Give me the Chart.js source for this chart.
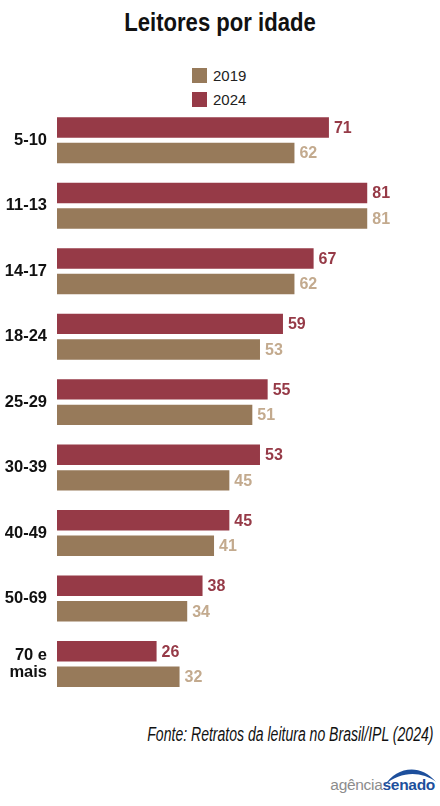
<!DOCTYPE html>
<html>
<head>
<meta charset="utf-8">
<script src="https://cdn.jsdelivr.net/npm/chart.js@4.4.1/dist/chart.umd.min.js"></script>
<style>
  html, body { margin:0; padding:0; background:#fff; }
  body { width:440px; height:806px; position:relative; overflow:hidden; }
  .narrow { font-family: 'Liberation Sans', Arial, sans-serif; }
  #title { position:absolute; left:0; width:440px; top:8.7px; text-align:center; font-size:26px; line-height:26px; font-weight:bold; color:#111; transform:scaleX(0.85); transform-origin:220px 0; white-space:nowrap; }
  .leg { position:absolute; left:192px; height:15px; font-family:'Liberation Sans', sans-serif; font-size:15px; line-height:15px; color:#222; }
  .leg i { position:absolute; left:0; top:0; width:15px; height:15px; }
  .leg span { position:absolute; left:21px; top:0; white-space:nowrap; }
  #wrap { position:absolute; left:0; top:100px; width:440px; height:600px; }
  #src { position:absolute; right:7px; top:725.2px; font-size:19.5px; line-height:19.5px; font-style:italic; color:#111; white-space:nowrap; transform:scaleX(0.72); transform-origin:100% 0; }
  #logo { position:absolute; right:5px; top:777px; font-family:'Liberation Sans', sans-serif; font-size:15.5px; line-height:15.5px; white-space:nowrap; letter-spacing:-0.3px; }
  #logo .a { color:#8c8c8c; }
  #logo .s { color:#1d4f9c; font-weight:bold; }
  #arc { position:absolute; left:380px; top:762px; }
</style>
</head>
<body>
<div id="title" class="narrow">Leitores por idade</div>
<div id="legend"></div>
<div id="wrap"><canvas id="c"></canvas></div>
<div id="src" class="narrow">Fonte: Retratos da leitura no Brasil/IPL (2024)</div>
<svg id="arc" width="60" height="28" viewBox="0 0 60 28">
  <path d="M5,23 C15,6 40,0 56,20 C42,9 20,9 5,23 Z" fill="#1d4f9c"/>
</svg>
<div id="logo"><span class="a">agência</span><span class="s">senado</span></div>
<script>
const categories = ['5-10', '11-13', '14-17', '18-24', '25-29', '30-39', '40-49', '50-69', ['70 e', 'mais']];
const values2024 = [71, 81, 67, 59, 55, 53, 45, 38, 26];
const values2019 = [62, 81, 62, 53, 51, 45, 41, 34, 32];
const seriesNames = ['2024', '2019'];
const barColors = ['#963a47', '#977a5a'];
const labelColors = ['#963a47', '#c3aa8e'];
const legendOrder = [1, 0];

// HTML legend (vertical, 2019 first)
const legendEl = document.getElementById('legend');
const legTops = [68, 92];
legendOrder.forEach((idx, row) => {
  const d = document.createElement('div');
  d.className = 'leg';
  d.style.top = legTops[row] + 'px';
  d.innerHTML = '<i style="background:' + barColors[idx] + '"></i><span style="top:0.3px">' + seriesNames[idx] + '</span>';
  legendEl.appendChild(d);
});

const valueLabels = {
  id: 'valueLabels',
  afterDatasetsDraw(chart) {
    const ctx = chart.ctx;
    ctx.save();
    ctx.font = 'bold 16px "Liberation Sans", sans-serif';
    ctx.textAlign = 'left';
    ctx.textBaseline = 'middle';
    chart.data.datasets.forEach((ds, i) => {
      const meta = chart.getDatasetMeta(i);
      ctx.fillStyle = labelColors[i];
      meta.data.forEach((bar, j) => {
        ctx.fillText(String(ds.data[j]), bar.x + 5, bar.y + 1);
      });
    });
    ctx.restore();
  }
};

new Chart(document.getElementById('c'), {
  type: 'bar',
  data: {
    labels: categories,
    datasets: [
      { label: seriesNames[0], data: values2024, backgroundColor: barColors[0], borderWidth: 0 },
      { label: seriesNames[1], data: values2019, backgroundColor: barColors[1], borderWidth: 0 }
    ]
  },
  options: {
    indexAxis: 'y',
    responsive: true,
    maintainAspectRatio: false,
    animation: false,
    categoryPercentage: 0.78,
    barPercentage: 0.80,
    layout: { padding: { top: 7.5, bottom: 3.25, left: 0, right: 0 } },
    plugins: { legend: { display: false }, tooltip: { enabled: false } },
    scales: {
      x: { display: false, min: 0, max: 100 },
      y: {
        grid: { display: false, drawTicks: false },
        border: { display: false },
        ticks: {
          padding: 10,
          color: '#111',
          font: { family: "'Liberation Sans', Arial, sans-serif", size: 16.5, weight: 'bold', lineHeight: 1.03 }
        },
        afterFit(scale) { scale.width = 57; scale.paddingTop = 0; scale.paddingBottom = 0; }
      }
    }
  },
  plugins: [valueLabels]
});
</script>
</body>
</html>
